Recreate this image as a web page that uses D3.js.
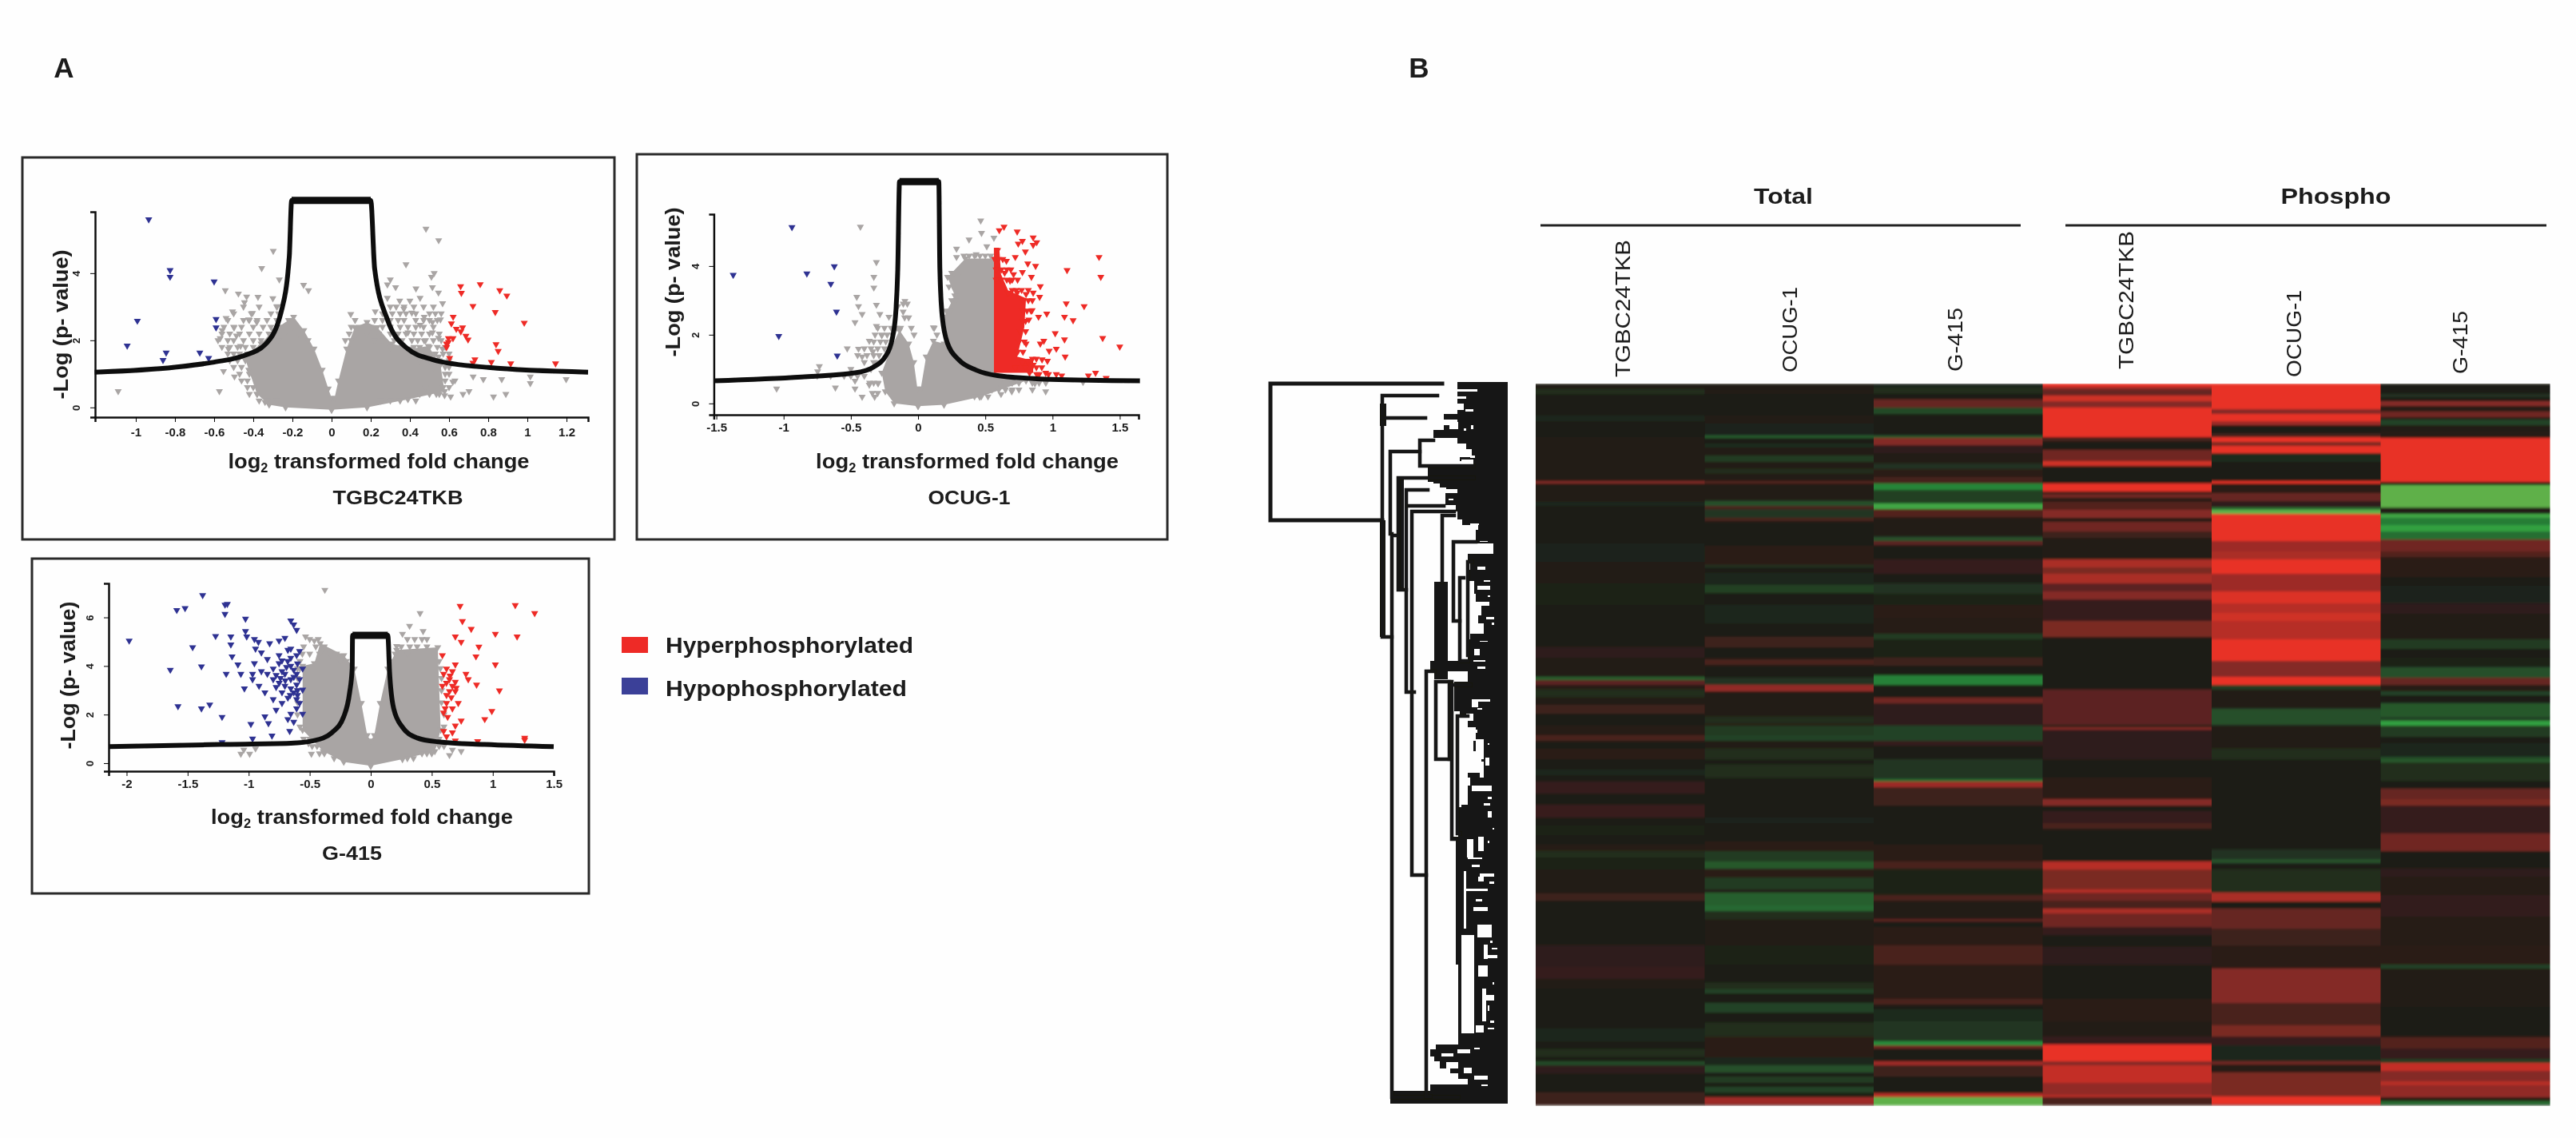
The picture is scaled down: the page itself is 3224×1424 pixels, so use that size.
<!DOCTYPE html>
<html><head><meta charset="utf-8">
<script src="https://cdn.jsdelivr.net/npm/d3@7"></script>
<style>html,body{margin:0;background:#fff}svg{display:block}text{font-family:"Liberation Sans",Arial,sans-serif;fill:#1c1c1c}</style>
</head><body><svg id="c" width="3224" height="1424"></svg>
<script>
// ---------- legend ----------
const legendLabels = ["Hyperphosphorylated","Hypophosphorylated"];
// ---------- TGBC24TKB volcano ----------
const tgbcXTicks=[-1,-0.8,-0.6,-0.4,-0.2,0,0.2,0.4,0.6,0.8,1,1.2];
const tgbcYTicks=[0,2,4];
const tgbcCurve=[[-1.21,1.05],[-0.8,1.2],[-0.6,1.35],[-0.445,1.55],[-0.34,1.87],[-0.257,2.86],[-0.216,4.5],[-0.204,6.17],[0.2,6.17],[0.22,4.13],[0.285,2.62],[0.388,1.75],[0.514,1.43],[0.8,1.19],[1.31,1.05]];
const tgbcCloud=[[0,-0.07],[-0.235,0],[-0.319,0.08],[-0.381,0.4],[-0.423,1.12],[-0.444,1.51],[-0.36,1.9],[-0.298,2.3],[-0.194,2.7],[-0.142,2.3],[-0.09,1.75],[-0.048,1.12],[-0.017,0.56],[0,0.28],[0.015,0.28],[0.035,0.8],[0.077,1.75],[0.119,2.39],[0.181,2.54],[0.233,2.39],[0.306,1.9],[0.41,1.75],[0.494,1.83],[0.556,1.27],[0.577,0.48],[0.39,0.24],[0.181,0],[0,-0.07]];
const tgbcGrey=[[0.482,5.32],[0.547,4.98],[-0.298,4.66],[-0.357,4.15],[0.38,4.26],[0.524,4.0],[0.51,3.89],[-0.267,3.81],[0.3,3.81],[-0.143,3.65],[-0.118,3.49],[-0.543,3.49],[-0.476,3.39],[-0.434,3.3],[-0.376,3.29],[-0.445,3.13],[-0.3,3.25],[-0.278,3.01],[-0.506,2.86],[-0.404,2.81],[-0.539,2.66],[-0.424,2.62],[-0.382,2.54],[-0.498,2.38],[-0.559,2.3],[-0.569,2.06],[-0.486,2.14],[-0.527,1.75],[-0.465,1.83],[0.285,3.66],[0.327,3.58],[0.431,3.54],[0.515,3.58],[0.546,3.42],[0.285,3.26],[0.348,3.18],[0.4,3.18],[0.452,3.26],[0.567,3.1],[0.098,2.78],[0.223,2.86],[0.369,2.94],[0.41,2.82],[0.473,2.7],[0.515,2.54],[0.556,2.62],[0.452,2.46],[0.39,2.23],[0.515,2.23],[0.473,1.99],[0.546,2.07],[0.567,1.75],[0.546,1.51],[-0.552,1.08],[-0.496,0.92],[-0.573,0.48],[-1.09,0.48],[-0.34,0.16],[0.619,0.76],[0.608,0.32],[0.671,0.4],[0.702,0.48],[0.723,0.92],[0.775,0.84],[0.869,0.84],[0.827,0.32],[0.89,0.4],[1.015,0.92],[1.015,0.72],[1.198,0.84],[0.535,0.4],[0.577,0.36]];
// [p level, fold changes read along that level]
const tgbcGreyRows=[[3.0,[-.45,-.37,-.28,.3,.33,.37,.42,.47,.52]],[2.8,[-.5,-.41,-.31,-.27,.26,.31,.35,.38,.43,.5,.53,.56]],[2.6,[-.53,-.45,-.42,-.38,-.33,-.28,-.22,.12,.22,.26,.3,.34,.37,.43,.47,.5,.54]],[2.4,[-.55,-.5,-.46,-.4,-.35,-.31,-.26,-.2,.1,.14,.2,.26,.3,.35,.39,.43,.47,.52]],[2.2,[-.56,-.52,-.47,-.42,-.37,-.32,-.28,-.24,-.17,.09,.13,.18,.24,.3,.34,.38,.42,.46,.5,.55]],[2.0,[-.58,-.53,-.5,-.45,-.4,-.36,-.31,-.27,-.12,.07,.1,.22,.26,.32,.36,.41,.44,.48,.52,.56]],[1.8,[-.56,-.52,-.48,-.44,-.4,-.36,.3,.36,.42,.45,.5,.54,.58]],[1.6,[-.53,-.5,-.47,-.43,.4,.44,.5,.53,.57,.6]],[1.4,[-.52,-.48,-.44,.45,.5,.55,.6]],[1.2,[-.5,-.46,.52,.58,.6]],[1.0,[-.47,-.42,.58,.6]],[0.8,[-.46,-.43,.58,.63]],[0.6,[-.43,-.4,.48,.57,.6]],[0.4,[-.42,-.38,.45,.5,.55]],[0.2,[-.37,-.33,-.28,.25,.3,.35,.43]]];
const tgbcBlue=[[-0.934,5.6],[-0.825,4.09],[-0.825,3.89],[-0.6,3.75],[-0.992,2.58],[-0.59,2.63],[-0.59,2.38],[-1.044,1.84],[-0.845,1.63],[-0.861,1.41],[-0.673,1.63],[-0.628,1.47]];
const tgbcRed=[[0.659,3.61],[0.663,3.41],[0.759,3.67],[0.859,3.49],[0.895,3.33],[0.722,3.02],[0.836,2.84],[0.621,2.7],[0.612,2.5],[0.984,2.52],[0.637,2.34],[0.669,2.38],[0.66,2.26],[0.686,2.13],[0.697,2.02],[0.597,2.06],[0.62,2.06],[0.587,1.9],[0.597,1.95],[0.587,1.79],[0.84,1.88],[0.851,1.68],[0.603,1.47],[0.732,1.43],[0.722,1.33],[0.816,1.35],[0.915,1.31],[1.144,1.31]];
// ---------- OCUG-1 volcano ----------
const ocugXTicks=[-1.5,-1,-0.5,0,0.5,1,1.5];
const ocugYTicks=[0,2,4];
const ocugCurve=[[-1.518,0.66],[-0.866,0.77],[-0.469,0.89],[-0.336,1.05],[-0.244,1.36],[-0.191,1.9],[-0.164,2.75],[-0.151,3.91],[-0.138,6.46],[0.154,6.46],[0.162,3.91],[0.18,2.52],[0.22,1.74],[0.3,1.28],[0.432,0.97],[0.591,0.81],[0.988,0.7],[1.65,0.66]];
const ocugCloud=[[0,-0.08],[-0.178,0],[-0.244,0.35],[-0.27,0.89],[-0.204,1.59],[-0.138,2.13],[-0.07,1.74],[-0.032,1.2],[-0.005,0.43],[0.02,0.43],[0.06,1.36],[0.114,1.82],[0.193,1.74],[0.193,2.52],[0.273,3.14],[0.22,3.68],[0.352,4.22],[0.564,4.22],[0.564,0.89],[0.803,0.66],[0.458,0.19],[0.193,-0.04],[0,-0.08]];
const ocugGrey=[[0.466,5.32],[0.472,4.96],[0.379,4.77],[0.564,4.82],[0.511,4.57],[0.286,4.5],[0.286,4.26],[0.432,4.34],[-0.429,5.14],[-0.31,4.11],[-0.329,3.68],[-0.329,3.37],[-0.456,3.1],[-0.443,2.83],[-0.31,2.87],[-0.416,2.6],[-0.469,2.36],[-0.284,2.6],[-0.217,2.52],[-0.31,2.25],[-0.151,2.83],[-0.098,2.98],[-0.111,2.67],[-0.27,1.98],[-0.363,1.82],[-0.443,1.59],[-0.527,1.6],[-0.336,1.51],[-0.416,1.36],[-0.734,1.08],[-0.747,0.93],[-1.052,0.43],[-0.615,0.46],[-0.469,0.66],[-0.469,0.43],[-0.416,0.19],[-0.323,0.19],[-0.363,0.54],[-0.297,0.58],[0.949,0.35],[0.869,0.58],[0.697,0.35],[0.617,0.27],[1.227,0.62],[0.114,2.21]];
const ocugGreyRows=[[4.3,[.34,.38,.42,.46,.5,.54]],[3.8,[.25,.27,.31]],[3.4,[.23,.26]],[3.0,[.25,.28]],[2.9,[-.11,-.08]],[2.7,[.21,.24]],[2.5,[-.1,-.07,.19]],[2.2,[-.3,-.25,-.2,-.16,-.13,-.05,.12]],[2.0,[-.32,-.27,-.23,-.19,-.03,.14]],[1.8,[-.33,-.28,-.24]],[1.6,[-.4,-.35,-.3,-.25]],[1.4,[-.45,-.38,-.33,-.29]],[1.2,[-.4,-.33,-.3]],[1.0,[-.5,-.35]],[0.8,[-.75,-.65,-.55,-.5,-.45,-.4]],[0.6,[-.36,-.33,-.3,.6,.65,.7,.75,.85,.9,.95]],[0.4,[.55,.6,.65,.7,.75,.85]],[0.3,[-.34,-.3]],[0.2,[.42,.47,.52]]];
const ocugBlue=[[-0.938,5.13],[-1.375,3.74],[-0.827,3.78],[-0.623,3.99],[-0.649,3.48],[-0.607,2.67],[-1.036,1.96],[-0.601,1.39]];
const ocugRedCore=[[0.564,0.89],[0.564,4.53],[0.604,4.53],[0.617,3.76],[0.67,3.29],[0.803,3.06],[0.79,2.21],[0.737,1.36],[0.856,1.24],[0.856,0.89]];
const ocugRed=[[0.639,5.14],[0.604,5.04],[0.737,5],[0.856,4.83],[0.882,4.69],[0.776,4.73],[0.745,4.65],[0.856,4.61],[0.798,4.42],[0.591,4.46],[0.657,4.15],[0.723,4.26],[0.816,4.07],[0.874,4],[1.346,4.26],[1.108,3.88],[1.359,3.68],[0.644,3.8],[0.71,3.76],[0.776,3.82],[0.843,3.68],[0.684,3.57],[0.909,3.41],[0.856,3.22],[0.67,3.22],[0.737,3.22],[0.803,3.18],[0.904,3.1],[1.102,2.91],[1.235,2.83],[0.848,2.71],[0.957,2.61],[0.896,2.52],[1.089,2.52],[1.153,2.42],[0.824,2.44],[1.02,2.04],[1.373,1.9],[0.935,1.82],[1.089,1.86],[1.5,1.65],[0.909,1.74],[1.028,1.59],[0.975,1.53],[0.803,1.74],[1.094,1.36],[0.922,1.28],[0.962,1.24],[0.776,1.2],[0.816,1.24],[0.856,1.12],[0.723,1.05],[0.949,0.89],[1.028,0.85],[1.068,0.81],[1.32,0.89],[1.267,0.81],[1.399,0.74],[0.882,0.85],[0.829,0.89]];
const ocugRedRows=[[4.2,[.57,.6,.63]],[3.9,[.58,.62,.66,.69]],[3.6,[.58,.62,.66,.7,.74]],[3.3,[.7,.73,.77,.82]],[3.0,[.78,.82,.85]],[2.7,[.78,.81,.84]],[2.4,[.78,.8]],[2.1,[.76,.8]],[1.8,[.75,.79]],[1.5,[.74,.78]],[1.3,[.85,.88]],[1.05,[.8,.88,.92]],[0.85,[.9,.97]]];
// ---------- G-415 volcano ----------
const g415XTicks=[-2,-1.5,-1,-0.5,0,0.5,1,1.5];
const g415YTicks=[0,2,4,6];
const g415Curve=[[-2.147,0.68],[-1.233,0.77],[-0.655,0.82],[-0.462,0.93],[-0.318,1.26],[-0.221,1.92],[-0.173,2.91],[-0.152,3.89],[-0.149,5.26],[0.14,5.26],[0.154,3.78],[0.188,2.25],[0.26,1.48],[0.38,1.04],[0.549,0.88],[0.934,0.77],[1.499,0.68]];
const g415Cloud=[[0,-0.11],[-0.221,0.05],[-0.39,0.49],[-0.558,1.37],[-0.558,4],[-0.462,4.11],[-0.414,4.93],[-0.221,4.44],[-0.135,3.89],[-0.077,2.47],[-0.029,1.15],[0,0.93],[0.029,1.15],[0.077,2.47],[0.14,3.89],[0.212,4.66],[0.549,4.77],[0.573,1.37],[0.525,0.49],[0.26,0.16],[0,-0.11]];
const g415Grey=[[-0.376,7.13],[0.404,6.17],[0.318,5.65],[0.26,5.32],[0.429,5.43],[-0.534,5.21],[-0.462,5.04],[0.212,4.82],[-1.04,0.55],[-1.064,0.38],[-0.992,0.38],[-0.944,0.6],[0.669,0.55],[0.741,0.49],[0.645,0.33],[-0.51,0.82],[-0.486,0.38]];
const g415GreyRows=[[5.1,[-.5,-.43,.3,.36,.42,.46]],[4.8,[-.55,-.45,-.38,.25,.32,.38,.46]],[4.5,[-.56,-.5,-.42,-.33,-.28,.2,.3,.52]],[4.2,[-.58,-.25,-.2,.18,.56]],[3.9,[-.6,-.58,.57]],[3.5,[-.6,.58]],[3.0,[-.6,.58]],[2.5,[-.6,.58]],[2.0,[-.6,.6]],[1.5,[-.58,.6]],[1.0,[-.55,-.5,.56]],[0.7,[-.48,-.44,.52,.56,.6]],[0.4,[-.42,-.38,.42,.46,.5]],[0.2,[-.3,.3,.35]]];
const g415Blue=[[-1.377,6.91],[-1.194,6.52],[-1.175,6.55],[-1.589,6.3],[-1.521,6.38],[-1.194,6.14],[-1.026,5.94],[-0.655,5.87],[-0.631,5.7],[-0.607,5.48],[-1.026,5.43],[-1.271,5.23],[-1.146,5.21],[-1.016,5.21],[-0.953,5.1],[-0.703,5.15],[-1.979,5.04],[-0.751,5.04],[-1.146,4.88],[-1.459,4.77],[-0.92,4.99],[-0.828,4.93],[-0.944,4.71],[-0.655,4.71],[-0.583,4.61],[-0.896,4.55],[-1.136,4.39],[-0.751,4.44],[-0.847,4.28],[-0.655,4.33],[-1.088,4.06],[-1.387,3.98],[-1.642,3.84],[-0.953,4.11],[-0.751,4.11],[-0.655,4],[-1.184,3.67],[-1.064,3.67],[-0.968,3.67],[-0.847,3.67],[-0.727,3.78],[-0.607,3.67],[-0.968,3.45],[-0.799,3.45],[-0.655,3.45],[-1.035,3.07],[-0.915,3.18],[-0.703,3.18],[-0.607,3.23],[-0.867,2.91],[-0.727,2.91],[-0.631,2.91],[-0.799,2.63],[-0.607,2.63],[-0.727,2.47],[-1.579,2.34],[-1.387,2.25],[-1.319,2.41],[-0.775,2.19],[-0.607,2.25],[-0.655,2.03],[-0.867,1.92],[-1.218,1.9],[-0.679,1.81],[-0.631,1.7],[-0.982,1.61],[-0.838,1.64],[-0.664,1.32],[-0.809,1.13],[-0.968,1.01],[-1.218,0.86],[-0.679,4.66],[-0.607,4.44],[-0.727,4.22],[-0.558,3.89],[-0.799,3.89],[-0.703,3.67],[-0.631,3.84],[-0.775,3.62],[-0.896,3.78],[-0.655,3.07],[-0.583,3.45],[-0.775,3.13],[-0.558,3.02],[-0.583,2.47],[-0.558,2.03],[-0.679,2.69],[-0.6,4.1],[-0.68,4.2],[-0.63,3.55],[-0.7,3.4],[-0.74,3.5],[-0.6,3.0],[-0.66,2.8],[-0.6,2.8],[-0.69,3.95],[-0.75,3.3]];
const g415Red=[[0.732,6.47],[1.184,6.5],[1.343,6.17],[0.751,5.84],[0.823,5.52],[1.021,5.32],[1.199,5.21],[0.693,5.21],[0.741,4.99],[0.886,4.79],[0.587,4.44],[0.862,4.39],[1.021,4.06],[0.693,4.06],[0.621,3.89],[0.669,3.78],[0.78,3.67],[0.597,3.67],[0.645,3.45],[0.799,3.45],[0.867,3.23],[0.669,3.18],[0.587,3.18],[1.054,2.99],[0.693,2.96],[0.621,2.8],[0.717,2.47],[0.621,2.47],[0.992,2.14],[0.669,2.25],[0.597,2.08],[0.934,1.81],[0.741,1.75],[0.693,1.54],[0.597,1.32],[0.669,1.26],[0.621,1.1],[0.693,0.93],[0.876,0.9],[1.261,0.96],[1.261,1.04],[0.645,2.96],[0.693,3.34],[0.65,3.6],[0.62,3.3],[0.66,2.7],[0.61,2.25],[0.7,3.1],[0.63,1.9]];
// ---------- heatmap ----------
const heatGroups=["Total","Phospho"];
const heatColumns=["TGBC24TKB","OCUG-1","G-415","TGBC24TKB","OCUG-1","G-415"];
const heatRowCount=903;
// each list holds [first row of a run, log-ratio level]
const totalTGBC=[[0,.05],[7,-.15],[13,.02],[40,-.1],[47,0],[67,.06],[122,.6],[125,.05],[148,-.1],[153,.04],[200,-.08],[223,.07],[250,-.05],[277,.03],[330,.15],[343,.08],[367,-.5],[371,.4],[377,.1],[383,-.15],[392,.08],[402,.25],[413,.03],[428,.1],[440,.3],[447,.02],[457,.12],[470,.03],[483,-.1],[490,.03],[498,.2],[513,.03],[527,.22],[543,0],[553,-.07],[565,.03],[577,.1],[585,-.15],[593,-.05],[608,.05],[638,.25],[647,.02],[703,.15],[730,.2],[745,.07],[757,0],[773,.03],[807,-.1],[823,.03],[833,-.15],[842,.03],[848,-.35],[853,.15],[863,-.03],[887,.25]];
const totalOCUG=[[0,.08],[7,.05],[13,0],[40,.06],[50,-.08],[65,-.5],[68,.02],[75,-.12],[80,.07],[90,-.25],[98,.05],[107,-.15],[112,.05],[122,.35],[125,.08],[147,-.4],[153,.3],[157,-.22],[168,.3],[172,.02],[203,.12],[227,-.2],[230,.03],[237,-.1],[252,-.28],[262,.03],[277,-.1],[300,-.03],[317,.25],[330,0],[345,.3],[352,.02],[368,-.2],[377,.65],[385,.05],[393,.07],[417,-.15],[425,.1],[428,-.25],[440,-.3],[447,.05],[457,-.15],[470,0],[477,-.15],[493,.03],[543,-.08],[550,.02],[573,.12],[585,-.25],[598,-.45],[607,.12],[618,-.25],[633,.05],[637,-.5],[653,-.55],[660,-.15],[670,.07],[703,-.05],[727,.02],[750,-.15],[758,-.3],[763,0],[775,-.3],[787,0],[800,-.15],[817,.12],[843,-.1],[853,-.4],[862,.02],[867,-.25],[875,0],[880,-.3],[887,-.05],[893,.7],[902,.2]];
const totalG415=[[0,-.1],[5,-.15],[12,-.03],[20,.45],[30,-.35],[38,-.03],[65,-.45],[68,.6],[77,.15],[87,.05],[100,-.2],[107,.12],[117,.28],[125,-.75],[133,-.28],[150,-1],[157,.35],[167,.07],[192,-.4],[197,.4],[202,.02],[220,.2],[238,.03],[250,-.18],[263,-.05],[277,.13],[293,.1],[313,-.25],[320,-.05],[343,.25],[353,.03],[365,-.72],[377,0],[393,.5],[400,.15],[428,-.3],[447,.2],[453,.02],[470,-.22],[495,-.6],[498,.7],[505,.25],[528,.03],[577,.12],[598,.3],[607,-.07],[640,.3],[647,.05],[670,.4],[673,-.03],[680,.12],[703,.3],[727,.12],[770,.3],[777,0],[783,-.12],[798,-.22],[823,-.8],[828,.5],[832,0],[848,.7],[853,.25],[867,.03],[888,.8],[893,-1.1]];
const phosphoTGBC=[[0,1],[4,.7],[7,.45],[15,.9],[22,.6],[30,1],[67,.02],[69,.3],[72,.03],[83,.5],[97,.9],[103,.02],[125,1],[135,.1],[138,.5],[143,.1],[148,.35],[158,.6],[168,.05],[173,.5],[185,.25],[193,.08],[220,.75],[230,.55],[238,.75],[250,.4],[260,.6],[270,.2],[297,.55],[317,.02],[383,.4],[427,.05],[430,.6],[433,.15],[470,.02],[493,.12],[520,.6],[528,0],[535,.2],[550,.3],[557,.04],[598,.8],[608,.55],[633,.8],[637,.5],[647,.3],[657,.75],[663,.5],[680,.2],[690,0],[705,.15],[727,.03],[770,.12],[798,.05],[817,.2],[827,1],[848,.6],[853,.85],[875,.65],[890,.8],[893,.3]];
const phosphoOCUG=[[0,1],[32,.6],[38,1],[47,.7],[52,.03],[62,.25],[67,1],[73,.55],[78,1],[87,-.12],[98,0],[122,1],[125,.12],[137,.45],[147,.15],[155,-.6],[158,-1.1],[163,1],[197,.7],[210,.75],[220,1],[238,.7],[260,.95],[275,.8],[287,.9],[297,.8],[320,1],[347,.6],[367,1],[377,-.25],[383,.05],[407,-.4],[427,.05],[457,-.15],[470,0],[493,.03],[527,-.03],[557,0],[583,-.2],[595,-.4],[600,.02],[608,-.15],[637,.75],[648,.03],[657,.45],[682,.25],[703,.12],[732,.6],[775,.3],[803,.55],[817,.2],[828,-.1],[848,.5],[852,.1],[862,.55],[892,1],[902,.3]];
const phosphoG415=[[0,0],[13,-.2],[17,0],[22,.6],[28,.1],[35,.5],[42,.1],[45,-.3],[52,.05],[60,.1],[68,1],[123,.05],[127,-1.1],[155,.05],[163,-1],[168,-.7],[177,-.95],[185,-.6],[195,.5],[210,.35],[217,.12],[242,0],[253,-.08],[275,.15],[288,.07],[320,-.25],[332,-.02],[343,-.05],[355,-.4],[368,.45],[377,.1],[385,-.3],[390,0],[400,-.45],[417,-.3],[422,-.95],[428,-.25],[442,0],[450,-.1],[467,-.35],[470,-.45],[474,-.15],[497,.02],[507,.45],[520,.55],[528,.2],[563,.5],[585,.03],[597,0],[607,.15],[617,.1],[640,.18],[667,.1],[703,.13],[727,-.3],[732,.05],[780,0],[803,.03],[818,.35],[832,.2],[845,-.25],[850,.85],[860,.6],[873,.8],[878,.65],[893,.1],[898,-.6],[902,.05]];
const heatLevels=[-1.2,-0.9,-0.5,-0.2,0,0.2,0.6,1];
const heatColors=["#7abb4f","#259b3e","#265f2e","#223321","#1a1a15","#341e1b","#842a25","#e83228"];
// ---------- dendrogram ----------
// merge height, top row, bottom row, top child height, bottom child height
const dendroMerges=[[297,2,173,82,157],[157,17,319,88,145],[157,45,45,103,157],[147,87,190,110,145],[110,73,105,93,43],[137,120,260,43,127],[145,192,895,137,62],[127,135,388,100,117],[123,155,155,80,123],[120,162,617,67,102],[102,362,894,92,97],[82,167,250,67,82],[68,200,299,40,60],[60,245,349,55,50],[50,225,342,45,50],[90,375,472,70,73],[73,375,472,73,73],[70,379,572,47,65],[63,418,565,50,60]];
// [row, height at which the solid leaf block starts]
const dendroEdge=[[0,82],[27,63],[35,55],[40,63],[47,80],[54,63],[60,80],[70,93],[77,63],[84,52],[94,45],[99,60],[105,43],[125,100],[132,93],[139,77],[154,78],[162,65],[172,63],[179,57],[185,37],[202,40],[215,18],[225,50],[235,47],[249,50],[265,42],[275,40],[292,33],[302,37],[315,30],[322,47],[349,50],[362,97],[375,50],[412,67],[419,60],[432,50],[449,40],[462,43],[475,33],[489,30],[495,50],[505,47],[529,50],[532,58],[569,62],[574,68],[729,65],[829,62],[835,90],[844,97],[850,92],[859,85],[865,72],[872,62],[879,50],[887,97],[895,147],[903,147]];
// [left height, right height, top row, bottom row] between branches inside that block
const dendroGaps=[[73,38,9,12],[82,52,18,21],[53,43,34,37],[73,62,50,59],[55,52,58,61],[46,43,54,59],[95,63,75,78],[47,41,92,95],[58,43,97,105],[132,102,125,129],[95,85,127,137],[77,63,134,139],[74,68,146,148],[47,36,177,179],[35,25,199,200],[38,28,231,235],[30,22,248,250],[38,22,255,260],[25,22,267,269],[37,23,275,280],[27,17,294,297],[20,17,301,304],[35,25,324,325],[42,35,334,342],[43,28,348,350],[38,28,356,359],[45,22,397,400],[45,37,400,407],[38,32,408,410],[52,43,415,424],[42,38,435,439],[25,23,452,454],[40,30,447,472],[28,23,470,480],[35,30,485,495],[45,20,505,512],[25,20,519,522],[30,22,527,530],[25,20,537,545],[19,17,558,560],[37,30,569,587],[25,23,574,577],[51,43,572,595],[50,32,595,597],[45,35,604,607],[35,17,615,619],[37,30,619,625],[23,17,625,628],[52,25,634,637],[40,32,647,650],[55,52,612,684],[43,25,657,662],[38,20,679,695],[22,19,699,702],[20,13,708,710],[30,13,717,721],[30,25,704,722],[37,25,730,744],[19,17,751,754],[32,17,767,774],[32,27,759,800],[25,23,780,787],[22,17,799,802],[25,17,808,810],[58,42,692,815],[40,30,805,814],[42,35,833,835],[63,47,835,840],[83,68,840,844],[77,62,851,859],[55,45,858,865],[42,25,868,873],[33,25,879,881]];
const dendroThick=[[160,152,27,55],[160,153,173,319],[138,130,120,260],[92,75,250,372]];

const svg=d3.select("#c");
svg.append("rect").attr("width",3224).attr("height",1424).attr("fill","#fefefe");
const defs=svg.append("defs");
defs.append("filter").attr("id","soft").attr("x","-5%").attr("y","-5%").attr("width","110%").attr("height","110%").append("feGaussianBlur").attr("stdDeviation",0.7);
defs.append("filter").attr("id","vblur").attr("x","0").attr("y","0").attr("width","100%").attr("height","100%").append("feGaussianBlur").attr("stdDeviation","0 1.5");
defs.append("filter").attr("id","dsoft").attr("x","-2%").attr("y","-2%").attr("width","104%").attr("height","104%").append("feGaussianBlur").attr("stdDeviation",0.5);

const RED="#ee2b25",BLUE="#2f3192",GREY="#a9a5a4";
const tri=d3.symbol(d3.symbolTriangle,34)();
const unrow=rows=>rows.flatMap(([p,xs])=>xs.map(v=>[v,p]));

function xLabel(g,cx,cy,w,size){
  const t=g.append("text").attr("x",cx).attr("y",cy).attr("text-anchor","middle").attr("font-weight","bold").attr("font-size",size)
    .attr("textLength",w).attr("lengthAdjust","spacingAndGlyphs");
  t.append("tspan").text("log");
  t.append("tspan").attr("font-size",size*.6).attr("dy",5).text("2");
  t.append("tspan").attr("dy",-5).text(" transformed fold change");
}
function volcano(o){
  const g=svg.append("g").attr("filter","url(#soft)");
  g.append("rect").attr("x",o.box[0]).attr("y",o.box[1]).attr("width",o.box[2]-o.box[0]).attr("height",o.box[3]-o.box[1]).attr("fill","none").attr("stroke","#2a2a2a").attr("stroke-width",3);
  const x=d3.scaleLinear().domain(o.xd).range(o.xr);
  const y=d3.scaleLinear().domain(o.yd).range(o.yr);
  const line=d3.line().x(d=>x(d[0])).y(d=>y(d[1]));
  const drawPts=(arr,c)=>g.append("g").selectAll("path").data(arr).join("path").attr("d",tri).attr("fill",c)
     .attr("transform",d=>`translate(${x(d[0])},${y(d[1])}) rotate(180)`);
  g.append("path").datum(o.cloud).attr("d",line).attr("fill",GREY);
  drawPts(o.cloud,GREY);
  drawPts(o.grey,GREY);
  if(o.redCore) g.append("path").datum(o.redCore).attr("d",line).attr("fill",RED);
  drawPts(o.blue,BLUE); drawPts(o.red,RED);
  g.append("path").datum(o.curve).attr("d",d3.line().curve(d3.curveMonotoneX).x(d=>x(d[0])).y(d=>y(d[1]))).attr("fill","none").attr("stroke","#111").attr("stroke-width",6).attr("stroke-linejoin","miter");
  const top=d3.max(o.curve,d=>d[1]);
  g.append("path").datum(o.curve.filter(d=>d[1]===top)).attr("d",line).attr("fill","none").attr("stroke","#111").attr("stroke-width",9);
  const ax=g.append("g").attr("transform",`translate(0,${o.yr[1]})`)
     .call(d3.axisBottom(x).tickValues(o.xt).tickSize(6).tickPadding(o.xpad).tickFormat(d=>d));
  ax.select(".domain").attr("stroke","#111").attr("stroke-width",2.5);
  ax.selectAll("text").attr("font-size",15).attr("font-weight","bold").attr("font-family","Liberation Sans");
  const ay=g.append("g").attr("transform",`translate(${o.xr[0]},0)`)
     .call(d3.axisLeft(y).tickValues(o.yt).tickSize(6).tickPadding(0).tickFormat(d=>d));
  ay.select(".domain").attr("stroke","#111").attr("stroke-width",2.5);
  const dx=o.ytx-o.xr[0];
  ay.selectAll("text").attr("font-size",13).attr("font-weight","bold").attr("font-family","Liberation Sans")
     .attr("text-anchor","middle").attr("dy","0.35em").attr("x",dx).attr("y",0).attr("transform",`rotate(-90 ${dx} 0)`);
  g.append("text").attr("transform",`translate(${o.yl[0]},${o.yl[1]}) rotate(-90)`).attr("text-anchor","middle").attr("dy","0.35em")
     .attr("font-size",26).attr("font-weight","bold").attr("textLength",o.yl[2]).attr("lengthAdjust","spacingAndGlyphs").text("-Log (p- value)");
  xLabel(g,o.xl[0],o.xl[1],o.xl[2],o.xl[3]);
  g.append("text").attr("x",o.name[1]).attr("y",o.name[2]).attr("dy","0.35em").attr("text-anchor","middle").attr("font-size",23).attr("font-weight","bold")
     .attr("textLength",o.name[3]).attr("lengthAdjust","spacingAndGlyphs").text(o.name[0]);
}
volcano({box:[28,197,769,675],xd:[-1.208,1.31],xr:[119,736],yd:[5.83,-0.29],yr:[265,522],xt:tgbcXTicks,yt:tgbcYTicks,xpad:7,ytx:95,
  cloud:tgbcCloud,grey:tgbcGrey.concat(unrow(tgbcGreyRows)),blue:tgbcBlue,red:tgbcRed,curve:tgbcCurve,yl:[76,406,187],xl:[474,586,377,26],name:["TGBC24TKB",498,623,163]});
volcano({box:[797,193,1461,675],xd:[-1.519,1.64],xr:[893.4,1425],yd:[5.51,-0.33],yr:[268,519],xt:ocugXTicks,yt:ocugYTicks,xpad:4,ytx:870,
  cloud:ocugCloud,redCore:ocugRedCore,grey:ocugGrey.concat(unrow(ocugGreyRows)),blue:ocugBlue,red:ocugRed.concat(unrow(ocugRedRows)),curve:ocugCurve,yl:[842,353,187],xl:[1210.6,586,379,26],name:["OCUG-1",1213,623,103]});
volcano({box:[40,699,737,1118],xd:[-2.147,1.499],xr:[136,693],yd:[7.4,-0.33],yr:[730,965],xt:g415XTicks,yt:g415YTicks,xpad:4,ytx:112,
  cloud:g415Cloud,grey:g415Grey.concat(unrow(g415GreyRows)),blue:g415Blue,red:g415Red,curve:g415Curve,yl:[84.5,845,185],xl:[453,1031,378,26],name:["G-415",440.5,1068,75]});

// panel letters
const lettersG=svg.append("g").attr("filter","url(#soft)");
lettersG.selectAll("text").data([["A",80],["B",1776]]).join("text").attr("x",d=>d[1]).attr("y",97).attr("text-anchor","middle").attr("font-size",35).attr("font-weight","bold").text(d=>d[0]);

// legend
const lg=svg.append("g").attr("filter","url(#soft)");
lg.selectAll("rect").data(legendLabels).join("rect").attr("x",778).attr("width",33).attr("y",(d,i)=>i?848:797).attr("height",(d,i)=>i?21:20).attr("fill",(d,i)=>i?"#3a4098":RED);
lg.selectAll("text").data(legendLabels).join("text").attr("x",833).attr("y",(d,i)=>i?862:808).attr("dy","0.35em").attr("font-size",27).attr("font-weight","bold")
  .attr("textLength",(d,i)=>i?302:310).attr("lengthAdjust","spacingAndGlyphs").text(d=>d);

// heatmap
const columnsData=[totalTGBC,totalOCUG,totalG415,phosphoTGBC,phosphoOCUG,phosphoG415];
const colX=d3.scaleBand().domain(d3.range(6)).range([1922,3191]);
const rowY=d3.scaleLinear().domain([0,heatRowCount]).range([480,1383]);
const heatColor=d3.scaleLinear().domain(heatLevels).range(heatColors).clamp(true);
const hm=svg.append("g").attr("filter","url(#vblur)");
columnsData.forEach((runs,c)=>{
  hm.append("g").selectAll("rect").data(runs).join("rect")
    .attr("x",colX(c)).attr("width",colX.bandwidth()+.5)
    .attr("y",d=>rowY(d[0])).attr("height",(d,i)=>rowY(i+1<runs.length?runs[i+1][0]:heatRowCount)-rowY(d[0])+.3)
    .attr("fill",d=>heatColor(d[1]));
});
// header
const hd=svg.append("g").attr("filter","url(#soft)");
const groupLines=[[1928,2529,2232,74],[2585,3187,2923.5,138]];
hd.selectAll("line").data(groupLines).join("line").attr("x1",d=>d[0]).attr("x2",d=>d[1]).attr("y1",282).attr("y2",282).attr("stroke","#222").attr("stroke-width",3);
hd.selectAll("text.g").data(heatGroups).join("text").attr("class","g").attr("x",(d,i)=>groupLines[i][2]).attr("y",245).attr("dy","0.35em").attr("text-anchor","middle").attr("font-size",28).attr("font-weight","bold")
  .attr("textLength",(d,i)=>groupLines[i][3]).attr("lengthAdjust","spacingAndGlyphs").text(d=>d);
const colLabelPos=[[2031,472,172],[2240,466,107],[2447,465,80],[2661,462,173],[2871,472,109],[3079,468,79]];
hd.selectAll("text.c").data(heatColumns).join("text").attr("class","c")
  .attr("transform",(d,i)=>`translate(${colLabelPos[i][0]},${colLabelPos[i][1]}) rotate(-90)`).attr("dy","0.35em").attr("font-size",26)
  .attr("textLength",(d,i)=>colLabelPos[i][2]).attr("lengthAdjust","spacingAndGlyphs").text(d=>d);

// dendrogram
const hX=d3.scaleLinear().domain([0,300]).range([1887,1587]);
const rY=d3.scaleLinear().domain([0,heatRowCount]).range([478,1381]);
const dg=svg.append("g").attr("filter","url(#dsoft)");
dg.append("path").datum(dendroEdge).attr("fill","#151512")
  .attr("d",d3.area().curve(d3.curveStepAfter).y(d=>rY(d[0])).x0(d=>hX(d[1])).x1(hX(0)));
dg.selectAll("rect.gap").data(dendroGaps).join("rect").attr("class","gap").attr("fill","#fefefe")
  .attr("x",d=>hX(d[0])).attr("width",d=>hX(d[1])-hX(d[0])).attr("y",d=>rY(d[2])).attr("height",d=>rY(d[3])-rY(d[2]));
dg.selectAll("rect.th").data(dendroThick).join("rect").attr("class","th").attr("fill","#151512")
  .attr("x",d=>hX(d[0])).attr("width",d=>hX(d[1])-hX(d[0])).attr("y",d=>rY(d[2])).attr("height",d=>rY(d[3])-rY(d[2]));
dg.selectAll("path.m").data(dendroMerges).join("path").attr("class","m").attr("fill","none").attr("stroke","#151512").attr("stroke-width",(d,i)=>i==0?5:4.5)
  .attr("stroke-linecap","square")
  .attr("d",d=>`M${hX(d[3])},${rY(d[1])}H${hX(d[0])}V${rY(d[2])}H${hX(d[4])}`);
</script></body></html>
